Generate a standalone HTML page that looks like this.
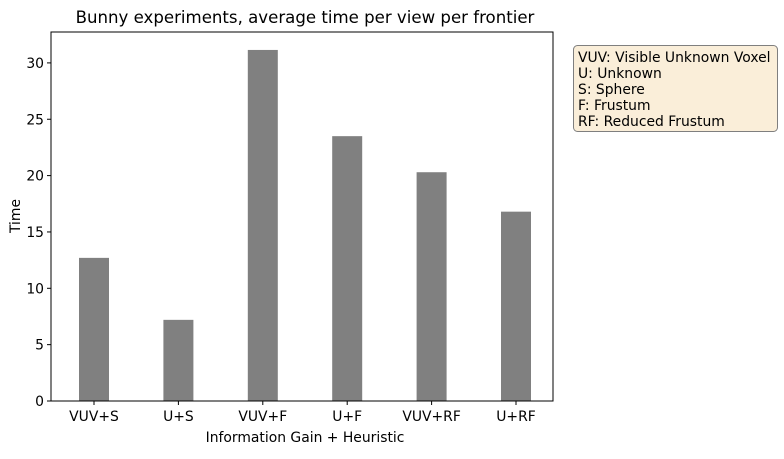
<!DOCTYPE html>
<html><head><meta charset="utf-8"><style>
body{margin:0;background:#fff;font-family:"DejaVu Sans","Liberation Sans",sans-serif;}
</style></head><body>
<svg width="784" height="455" viewBox="0 0 784 455" xmlns="http://www.w3.org/2000/svg" font-family="DejaVu Sans, Liberation Sans, sans-serif">
<text x="305" y="23" font-size="16.6" text-anchor="middle">Bunny experiments, average time per view per frontier</text>
<g id="bars"></g>
<rect x="51" y="32" width="502" height="369" fill="none" stroke="#000" stroke-width="1"/>
<g id="xt" font-size="13.9" text-anchor="middle"></g>
<g id="yt" font-size="13.9" text-anchor="end"></g>
<text x="305" y="442" font-size="13.9" text-anchor="middle">Information Gain + Heuristic</text>
<text transform="translate(20,216) rotate(-90)" font-size="13.9" text-anchor="middle">Time</text>
<g>
<rect x="573.5" y="45.5" width="204" height="86" rx="4" fill="#f5deb3" fill-opacity="0.5" stroke="#7f7f7f"/>
<text font-size="13.9" x="578">
<tspan x="578" y="62">VUV: Visible Unknown Voxel</tspan>
<tspan x="578" y="78">U: Unknown</tspan>
<tspan x="578" y="94">S: Sphere</tspan>
<tspan x="578" y="110">F: Frustum</tspan>
<tspan x="578" y="126">RF: Reduced Frustum</tspan>
</text></g>
</svg>
<script>
const categories=["VUV+S","U+S","VUV+F","U+F","VUV+RF","U+RF"];
const values=[12.7,7.2,31.15,23.5,20.3,16.8];
const yTicks=[0,5,10,15,20,25,30];
const NS="http://www.w3.org/2000/svg";
const x=i=>94+i*84.4;
const y=v=>401-v*11.27;
const bars=document.getElementById('bars'),xt=document.getElementById('xt'),yt=document.getElementById('yt');
categories.forEach((c,i)=>{
 const r=document.createElementNS(NS,'rect');
 r.setAttribute('x',x(i)-15);r.setAttribute('width',30);
 r.setAttribute('y',y(values[i]));r.setAttribute('height',y(0)-y(values[i]));
 r.setAttribute('fill','#808080');
 
 
 bars.appendChild(r);
 const l=document.createElementNS(NS,'line');
 l.setAttribute('x1',x(i));l.setAttribute('x2',x(i));l.setAttribute('y1',401);l.setAttribute('y2',405);l.setAttribute('stroke','#000');
 
 
 xt.appendChild(l);
 const t=document.createElementNS(NS,'text');
 t.setAttribute('x',x(i));t.setAttribute('y',421);t.textContent=c;
 
 
 xt.appendChild(t);
});
yTicks.forEach(v=>{
 const l=document.createElementNS(NS,'line');
 l.setAttribute('x1',47);l.setAttribute('x2',51);l.setAttribute('y1',y(v));l.setAttribute('y2',y(v));l.setAttribute('stroke','#000');
 
 
 yt.appendChild(l);
 const t=document.createElementNS(NS,'text');
 t.setAttribute('x',44);t.setAttribute('y',y(v)+5);t.textContent=v;
 
 
 yt.appendChild(t);
});
</script>
</body></html>
